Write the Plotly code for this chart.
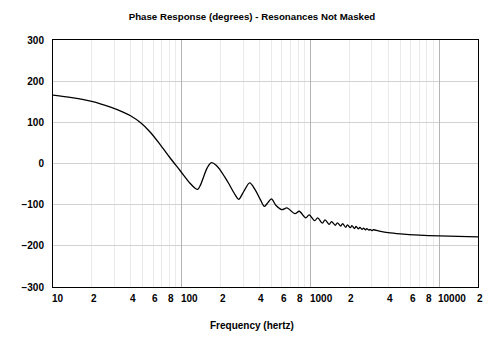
import math
import plotly.graph_objects as go

# Phase response of the driver, resonances not masked
freq_hz = [10, 14, 20, 28, 35, 40, 48, 57, 68, 81, 97, 116, 127, 133, 140, 148,
           158, 170, 185, 199, 215, 231, 260, 277, 303, 337, 372, 410, 438, 467,
           497, 540, 598, 657, 758, 817, 918, 977, 1078, 1137, 1238, 1297, 1398,
           1457, 1558, 1617, 1718, 1777, 1878, 1937, 2038, 2097, 2198, 2257, 2358,
           2417, 2518, 2577, 2678, 2737, 2838, 2897, 2998, 3057, 3500, 4000, 5000,
           7000, 10000, 14000, 20000]
phase_deg = [166, 160, 151, 137, 125, 116, 99, 76, 46, 14, -17, -48, -60, -63, -52, -32,
             -10, 2, -4, -16, -32, -48, -76, -87, -68, -47, -64, -89, -104, -95,
             -86, -102, -112, -108, -122, -116, -132, -125, -139, -132, -145, -137, -148,
             -141, -150, -144, -152, -146, -155, -149, -156, -151, -158, -153, -159,
             -155, -160, -157, -161, -158, -162, -160, -163, -161, -165, -168, -171,
             -174, -176, -177, -178]

# Axis labelling
x_tick_vals = [10, 20, 40, 60, 80, 100, 200, 400, 600, 800, 1000, 2000, 4000, 6000,
               8000, 10000, 20000]
x_tick_text = ["10", "2", "4", "6", "8", "100", "2", "4", "6", "8", "1000", "2", "4",
               "6", "8", "10000", "2"]
x_minor_vals = [m * d for d in (10, 100, 1000) for m in range(2, 10)] + [20000]
x_decades = [100, 1000, 10000]
y_tick_vals = [-300, -200, -100, 0, 100, 200, 300]

FONT = "Liberation Sans"
x_range = [1, 4.30103]

fig = go.Figure()
fig.add_trace(go.Scatter(
    x=freq_hz, y=phase_deg, mode="lines",
    line=dict(color="#000000", width=1.3, shape="spline", smoothing=0.9),
    hoverinfo="skip", showlegend=False,
))
# empty trace so the decade grid axis is drawn
fig.add_trace(go.Scatter(x=[], y=[], xaxis="x2", showlegend=False, hoverinfo="skip"))

# frequency labels: the leading digit sits on its gridline, the rest runs right
x_labels = [
    dict(text=f"<b>{t}</b>", x=math.log10(v), xref="x", y=0, yref="paper",
         xanchor="left", yanchor="middle", xshift=-3, yshift=-11, showarrow=False,
         font=dict(family=FONT, size=10, color="#000000"))
    for v, t in zip(x_tick_vals, x_tick_text)
]

fig.update_layout(
    width=504, height=344,
    margin=dict(l=53, r=26, t=40, b=57),
    paper_bgcolor="white", plot_bgcolor="white",
    font=dict(family=FONT, size=10, color="#000000"),
    title=dict(
        text="<b>Phase Response (degrees) - Resonances Not Masked</b>",
        x=0.5, xref="container", xanchor="center",
        y=1 - 17 / 344, yref="container", yanchor="middle",
        font=dict(family=FONT, size=9.7, color="#000000"),
    ),
    xaxis=dict(
        type="log", range=x_range,
        tickmode="array", tickvals=x_tick_vals, showticklabels=False,
        showgrid=False, zeroline=False, ticks="",
        showline=True, linecolor="#000000", linewidth=1, mirror=True,
        minor=dict(tickvals=x_minor_vals, showgrid=True, gridcolor="#ebebeb",
                   gridwidth=1, ticks=""),
    ),
    xaxis2=dict(
        type="log", range=x_range, overlaying="x", side="bottom",
        tickmode="array", tickvals=x_decades, showticklabels=False,
        showgrid=True, gridcolor="#b4b4b4", gridwidth=1, zeroline=False,
        showline=False, ticks="",
    ),
    yaxis=dict(
        range=[-300, 300], tickmode="array", tickvals=y_tick_vals,
        tickfont=dict(family=FONT, size=10, color="#000000", weight="bold"),
        showgrid=True, gridcolor="#d2d2d2", gridwidth=1,
        zeroline=False, ticks="", ticklabelstandoff=6,
        showline=True, linecolor="#000000", linewidth=1, mirror=True,
    ),
    annotations=x_labels + [dict(
        text="<b>Frequency (hertz)</b>", xref="paper", yref="paper",
        x=(252 - 53) / 425, y=-(325 - 287) / 247, xanchor="center", yanchor="middle",
        showarrow=False, font=dict(family=FONT, size=10, color="#000000"),
    )],
)

fig.write_html("out.html")
